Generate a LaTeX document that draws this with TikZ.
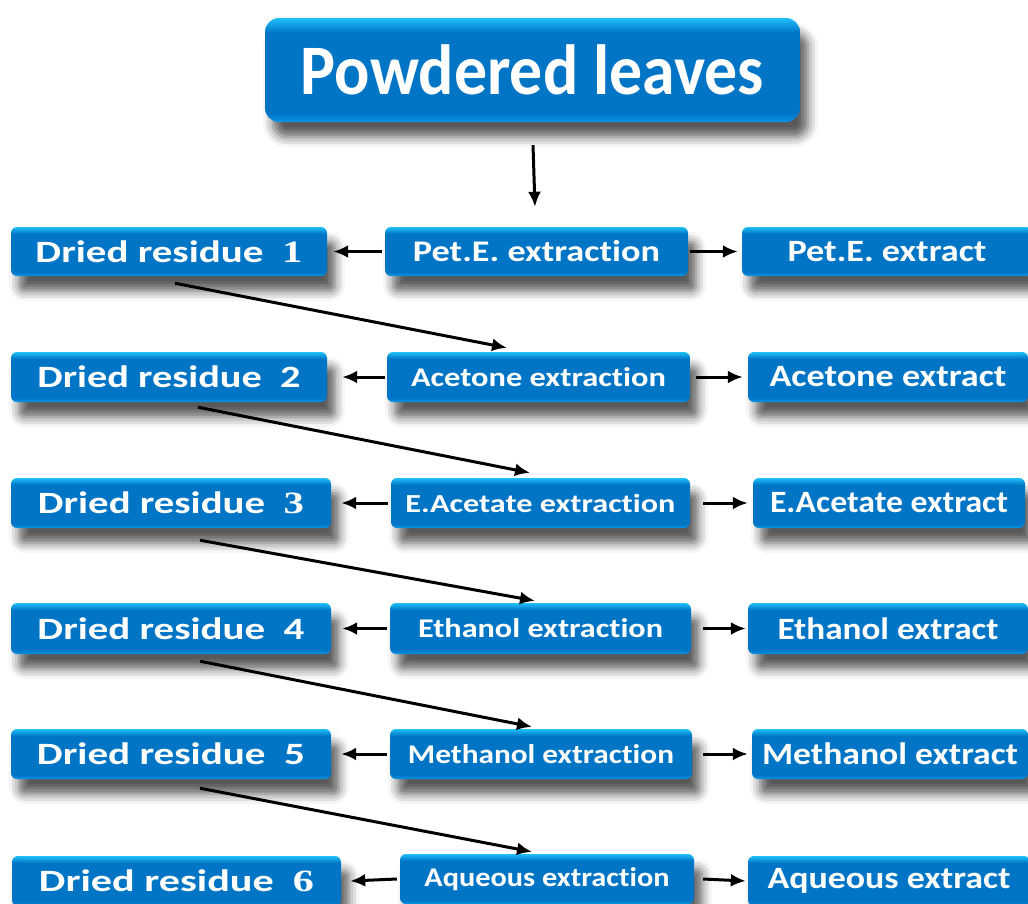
\documentclass[tikz,border=0pt]{standalone}
\usepackage{fontspec}
\usepackage{graphicx}
\setmainfont{Carlito}[Ligatures={NoCommon}]
\newfontfamily\numfont{Liberation Serif}
\usetikzlibrary{arrows.meta,shadows.blur,calc}
\definecolor{btop}{HTML}{1FC0F8}
\definecolor{bmid}{HTML}{0075C6}
\definecolor{bbot}{HTML}{0A95E6}
\pgfdeclareverticalshading{btnshade}{100bp}{color(0bp)=(bbot); color(25bp)=(bbot); color(29bp)=(bmid); color(68bp)=(bmid); color(75bp)=(btop); color(100bp)=(btop)}
\newcommand\fitw[3]{\resizebox{#1pt}{\height}{\fontsize{#2}{#2}\selectfont\bfseries #3}}
\newcommand\xtn{extract\kern0pt ion}
\tikzset{
  box/.style={rounded corners=6pt, shading=btnshade, text=white, inner sep=0pt,
    blur shadow={shadow xshift=8pt, shadow yshift=-15pt, shadow blur radius=10pt, shadow opacity=65}},
  harrow/.style={line width=3pt, -{Latex[length=15pt,width=13pt]}},
}
\begin{document}
\begin{tikzpicture}[x=1pt,y=-1pt]
\useasboundingbox (0,0) rectangle (1028,903);
% top
\node[box, rounded corners=14pt, minimum width=535pt, minimum height=104pt] (top) at (532.5,70) {\fitw{463}{71}{Powdered leaves}};
% row 1
\node[box, minimum width=316pt, minimum height=49pt] (D1) at (169,251.5) {\fitw{267}{31}{Dried residue~~{\numfont 1}}};
\node[box, minimum width=303pt, minimum height=49pt] (X1) at (536.5,251.5) {\fitw{247}{30}{Pet.E. \xtn}};
\node[box, minimum width=290pt, minimum height=49pt] (E1) at (887,251.5) {\fitw{199}{31}{Pet.E. extract}};
% row 2
\node[box, minimum width=316pt, minimum height=50pt] (D2) at (169,377) {\fitw{263}{31}{Dried residue~~2}};
\node[box, minimum width=303pt, minimum height=50pt] (X2) at (538.5,377) {\fitw{255}{27}{Acetone \xtn}};
\node[box, minimum width=280pt, minimum height=50pt] (E2) at (888,377) {\fitw{237}{31}{Acetone extract}};
% row 3
\node[box, minimum width=320pt, minimum height=50pt] (D3) at (171,503) {\fitw{266}{31}{Dried residue~~{\numfont 3}}};
\node[box, minimum width=299pt, minimum height=50pt] (X3) at (540.5,503) {\fitw{270}{26}{E.Acetate \xtn}};
\node[box, minimum width=272pt, minimum height=50pt] (E3) at (889,503) {\fitw{238}{31}{E.Acetate extract}};
% row 4
\node[box, minimum width=320pt, minimum height=51pt] (D4) at (171,628.5) {\fitw{267}{31}{Dried residue~~4}};
\node[box, minimum width=301pt, minimum height=51pt] (X4) at (540.5,628.5) {\fitw{245}{27}{Ethanol \xtn}};
\node[box, minimum width=280pt, minimum height=51pt] (E4) at (888,628.5) {\fitw{221}{31}{Ethanol extract}};
% row 5
\node[box, minimum width=320pt, minimum height=50pt] (D5) at (171,754) {\fitw{268}{31}{Dried residue~~5}};
\node[box, minimum width=302pt, minimum height=50pt] (X5) at (541,754) {\fitw{266}{27}{Methanol \xtn}};
\node[box, minimum width=276pt, minimum height=50pt] (E5) at (890,754) {\fitw{256}{31}{Methanol extract}};
% row 6
\node[box, minimum width=329pt, minimum height=50pt] (D6) at (176.5,881) {\fitw{275}{31}{Dried residue~~{\numfont 6}}};
\node[box, minimum width=294pt, minimum height=50pt] (X6) at (547,879) {\fitw{245}{27}{Aqueous \xtn}};
\node[box, minimum width=282pt, minimum height=50pt] (E6) at (889,881) {\fitw{243}{31}{Aqueous extract}};
% vertical arrow
\draw[harrow] ($(top.south)+(0.5,23)$) -- ($(X1.north)+(-1.5,-20)$);
% horizontal arrows
\draw[harrow] ([xshift=-3pt]X1.west) -- ([xshift=6pt]D1.east);
\draw[harrow] ([xshift=2pt]X1.east) -- ([xshift=-4pt]E1.west);
\draw[harrow] ([xshift=-2pt]X2.west) -- ([xshift=15pt]D2.east);
\draw[harrow] ([xshift=6pt]X2.east) -- ([xshift=-5pt]E2.west);
\draw[harrow] ([xshift=-3pt]X3.west) -- ([xshift=10pt]D3.east);
\draw[harrow] ([xshift=13pt]X3.east) -- ([xshift=-5pt]E3.west);
\draw[harrow] ([xshift=-3pt]X4.west) -- ([xshift=11pt]D4.east);
\draw[harrow] ([xshift=12pt]X4.east) -- ([xshift=-2pt]E4.west);
\draw[harrow] ([xshift=-3pt]X5.west) -- ([xshift=10pt]D5.east);
\draw[harrow] ([xshift=11pt]X5.east) -- ([xshift=-4pt]E5.west);
\draw[harrow] ([xshift=-3pt]X6.west) -- ([xshift=9pt]D6.east);
\draw[harrow] ([xshift=9pt]X6.east) -- ([xshift=-2pt]E6.west);
% diagonal arrows
\draw[harrow] ($(D1.south)+(6,7)$) -- ($(X2.north)+(-31.5,-4)$);
\draw[harrow] ($(D2.south)+(29,5)$) -- ($(X3.north)+(-10.5,-5)$);
\draw[harrow] ($(D3.south)+(29,12)$) -- ($(X4.north)+(-5.5,-2)$);
\draw[harrow] ($(D4.south)+(29,7)$) -- ($(X5.north)+(-9,-2)$);
\draw[harrow] ($(D5.south)+(29,9)$) -- ($(X6.north)+(-15,-2)$);
\end{tikzpicture}
\end{document}
